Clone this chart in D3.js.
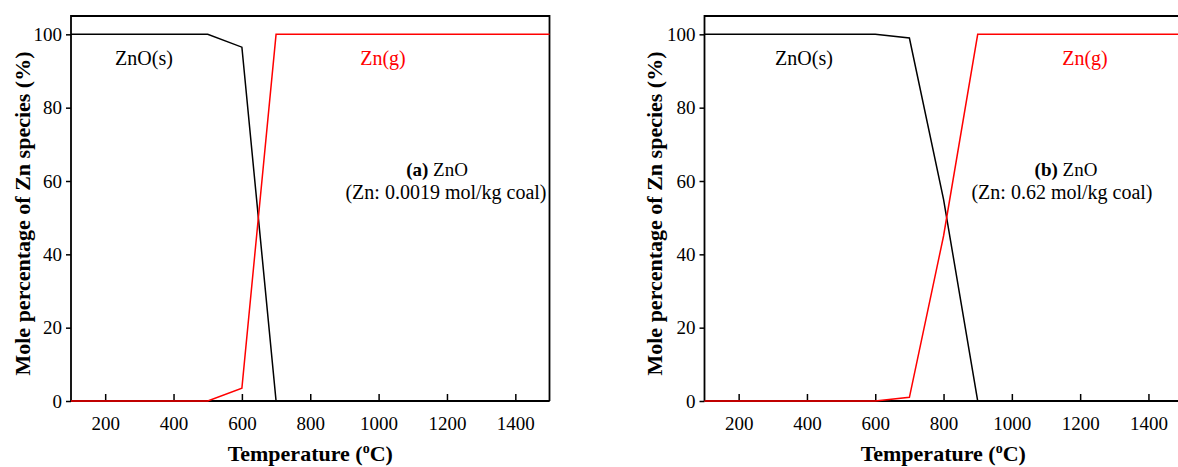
<!DOCTYPE html>
<html>
<head>
<meta charset="utf-8">
<script src="https://cdn.jsdelivr.net/npm/d3@7/dist/d3.min.js"></script>
<style>
  html, body { margin: 0; padding: 0; background: #fff; }
  svg { display: block; font-family: "Liberation Serif", "Times New Roman", serif; }
</style>
</head>
<body>
<svg id="chart" width="1178" height="467"></svg>
<script>
// Temperatures of the equilibrium calculation (°C)
const temperatures = [100, 200, 300, 400, 500, 600, 700, 800, 900, 1000, 1100, 1200, 1300, 1400, 1500];

// Panel (a): Zn 0.0019 mol/kg coal
const znoSolidA = [100, 100, 100, 100, 100, 96.5, 0, 0, 0, 0, 0, 0, 0, 0, 0];
const znGasA    = [0, 0, 0, 0, 0, 3.5, 100, 100, 100, 100, 100, 100, 100, 100, 100];

// Panel (b): Zn 0.62 mol/kg coal
const znoSolidB = [100, 100, 100, 100, 100, 100, 99, 55, 0, 0, 0, 0, 0, 0, 0];
const znGasB    = [0, 0, 0, 0, 0, 0, 1, 45, 100, 100, 100, 100, 100, 100, 100];

const xTicks = [200, 400, 600, 800, 1000, 1200, 1400];
const yTicks = [0, 20, 40, 60, 80, 100];

const panels = [
  { left: 71, right: 549.5, tag: "(a)", conc: "(Zn: 0.0019 mol/kg coal)",
    solid: znoSolidA, gas: znGasA, closed: true,
    titleX: 22, noteX: 446, tagX: 437, solidLbl: 144, gasLbl: 383 },
  { left: 704.5, right: 1182.6, tag: "(b)", conc: "(Zn: 0.62 mol/kg coal)",
    solid: znoSolidB, gas: znGasB, closed: false,
    titleX: 654, noteX: 1062, tagX: 1066, solidLbl: 804, gasLbl: 1085 }
];

const plotTop = 16, plotBottom = 401;
const svg = d3.select("#chart");

panels.forEach(p => {
  const x = d3.scaleLinear().domain([100, 1500]).range([p.left, p.right]);
  const y = d3.scaleLinear().domain([0, 105]).range([plotBottom, plotTop]);
  const g = svg.append("g");
  const visRight = Math.min(p.right, 1178);

  // x axis: ticks point into the plot
  const xa = g.append("g").attr("transform", `translate(0,${plotBottom})`)
    .call(d3.axisBottom(x).tickValues(xTicks).tickSize(-7).tickPadding(16).tickFormat(d3.format("d")));
  xa.attr("font-family", null);
  xa.select(".domain").remove();
  xa.selectAll("line").attr("stroke", "#000").attr("stroke-width", 1.5);
  xa.selectAll("text").attr("font-size", 19).attr("fill", "#000");

  // y axis: ticks point outward
  const ya = g.append("g").attr("transform", `translate(${p.left},0)`)
    .call(d3.axisLeft(y).tickValues(yTicks).tickSize(5).tickPadding(4));
  ya.attr("font-family", null);
  ya.select(".domain").remove();
  ya.selectAll("line").attr("stroke", "#000").attr("stroke-width", 1.5);
  ya.selectAll("text").attr("font-size", 19).attr("fill", "#000");

  // frame
  const frame = d3.path();
  frame.moveTo(p.left, plotBottom); frame.lineTo(p.left, plotTop); frame.lineTo(visRight, plotTop);
  if (p.closed) { frame.lineTo(p.right, plotBottom); }
  frame.moveTo(p.left, plotBottom); frame.lineTo(visRight, plotBottom);
  g.append("path").attr("d", frame.toString()).attr("fill", "none")
    .attr("stroke", "#000").attr("stroke-width", 1.8);

  // series lines
  const line = d3.line().x(d => x(d[0])).y(d => y(d[1]));
  g.append("path").datum(temperatures.map((t, i) => [t, p.solid[i]]))
    .attr("d", line).attr("fill", "none").attr("stroke", "#000").attr("stroke-width", 1.5);
  g.append("path").datum(temperatures.map((t, i) => [t, p.gas[i]]))
    .attr("d", line).attr("fill", "none").attr("stroke", "#ff0000").attr("stroke-width", 1.5);

  // series labels
  g.append("text").attr("x", p.solidLbl).attr("y", 65).attr("text-anchor", "middle")
    .attr("font-size", 20).attr("fill", "#000").text("ZnO(s)");
  g.append("text").attr("x", p.gasLbl).attr("y", 65).attr("text-anchor", "middle")
    .attr("font-size", 20).attr("fill", "#ff0000").text("Zn(g)");

  // panel note
  const n1 = g.append("text").attr("x", p.tagX).attr("y", 176).attr("text-anchor", "middle")
    .attr("font-size", 19).attr("fill", "#000");
  n1.append("tspan").attr("font-weight", "bold").text(p.tag);
  n1.append("tspan").text(" ZnO");
  g.append("text").attr("x", p.noteX).attr("y", 199).attr("text-anchor", "middle")
    .attr("font-size", 20).attr("fill", "#000").text(p.conc);

  // axis titles
  const xt = g.append("text").attr("x", (p.left + visRight + (p.closed ? 0 : 4)) / 2)
    .attr("y", 461).attr("text-anchor", "middle").attr("font-size", 22).attr("font-weight", "bold")
    .attr("fill", "#000");
  xt.append("tspan").text("Temperature (");
  xt.append("tspan").attr("font-size", 14).attr("dy", -8).text("o");
  xt.append("tspan").attr("dy", 8).text("C)");

  g.append("text").attr("transform", `translate(${p.titleX},${(plotTop + plotBottom) / 2 + 5}) rotate(-90)`)
    .attr("text-anchor", "middle").attr("dy", "0.35em").attr("font-size", 22).attr("font-weight", "bold")
    .attr("fill", "#000").text("Mole percentage of Zn species (%)");
});
</script>
</body>
</html>
